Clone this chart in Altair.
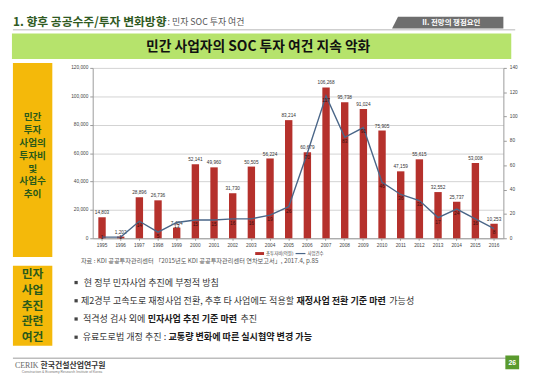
import altair as alt
import pandas as pd

FONT = "Noto Sans CJK KR"

# ---------------- data ----------------
years = [str(y) for y in range(1995, 2017)]
invest = [14803, 1202, 28896, 26736, 7484, 52141, 49960, 31730, 50505, 56224, 83214,
          60679, 106268, 95738, 91024, 75905, 47159, 55615, 32552, 25737, 53008, 10253]
projects = [1, 1, 14, 5, 13, 15, 15, 16, 16, 19, 26, 70, 117, 83, 91, 46, 36, 31, 17, 24, 16, 8]

left_ticks = [0, 20000, 40000, 60000, 80000, 100000, 120000]
right_ticks = [0, 20, 40, 60, 80, 100, 120, 140]

header_main = "1. 향후 공공수주/투자 변화방향"
header_sub = ": 민자 SOC 투자 여건"
tab_text = "II. 전망의 쟁점요인"
banner_title = "민간 사업자의 SOC 투자 여건 지속 악화"
box1_lines = ["민간", "투자", "사업의", "투자비", "및", "사업수", "추이"]
box2_lines = ["민자", "사업", "추진", "관련", "여건"]
source_text = "자료 : KDI 공공투자관리센터 「2015년도 KDI 공공투자관리센터 연차보고서」, 2017.4, p.85"
legend_labels = ["총투자비(억원)", "사업건수"]
bullets = [
    [("현 정부 민자사업 추진에 부정적 방침", False)],
    [("제2경부 고속도로 재정사업 전환, 추후 타 사업에도 적용할", False),
     ("재정사업 전환 기준 마련", True), ("가능성", False)],
    [("적격성 검사 외에", False), ("민자사업 추진 기준 마련", True), ("추진", False)],
    [("유료도로법 개정 추진 :", False), ("교통량 변화에 따른 실시협약 변경 가능", True)],
]

df = pd.DataFrame({"year": years, "invest": invest, "projects": projects})

# ---------------- layout ----------------
OX, OY = 94, 66          # page position of plot origin
W, H = 417, 173
RED = "#b5312c"
BLUE = "#4a6688"
GREEN_TXT = "#2a5a1a"
YELLOW = "#f4b90a"

one = alt.Data(values=[{"a": 1}])


def X(p):
    return p - OX


def Y(p):
    return p - OY


def txt(s, x, y, size, color, weight="normal", align="left", baseline="middle", font=FONT):
    return alt.Chart(one).mark_text(
        text=s, fontSize=size, color=color, fontWeight=weight, align=align,
        baseline=baseline, font=font
    ).encode(x=alt.value(X(x)), y=alt.value(Y(y)))


def rect(x1, y1, x2, y2, color):
    return alt.Chart(one).mark_rect(color=color).encode(
        x=alt.value(X(x1)), x2=alt.value(X(x2)), y=alt.value(Y(y1)), y2=alt.value(Y(y2)))


def tw(s, f, hw=0.92):
    w = 0.0
    for ch in s:
        o = ord(ch)
        if 0xAC00 <= o <= 0xD7A3:
            w += hw
        elif ch == " ":
            w += 0.224
        elif ch.isdigit():
            w += 0.553
        elif ch in ",.:":
            w += 0.27
        else:
            w += 0.6
    return w * f


deco = []
# header
deco.append(txt(header_main, 13, 19, 12, "#2f5a22", weight="bold"))
deco.append(txt(header_sub, 170, 19.5, 9, "#555555"))
deco.append(rect(13, 26.5, 523, 28, "#cfcfcf"))
# tab
deco.append(alt.Chart(one).mark_point(
    shape="M 1 -1 L 1 1 L 0 1 Z", size=144, filled=True, color="#6e6e6e", opacity=1, strokeWidth=0
).encode(x=alt.value(X(398)), y=alt.value(Y(20))))
deco.append(rect(404, 14, 511, 26, "#6e6e6e"))
deco.append(txt(tab_text, 458, 20.5, 7.5, "white", weight="bold", align="center"))
# banner
deco.append(rect(12, 31, 519, 57, "#b6e36c"))
deco.append(txt(banner_title, 262, 44.5, 14, "#111111", weight="bold", align="center"))
# yellow boxes
deco.append(rect(13, 61, 53, 258, YELLOW))
for i, s in enumerate(box1_lines):
    deco.append(txt(s, 33, 115.8 + i * 13.1, 9.8, GREEN_TXT, weight="bold", align="center"))
deco.append(rect(13, 267, 53, 348, YELLOW))
for i, s in enumerate(box2_lines):
    deco.append(txt(s, 33, 275.5 + i * 16, 12, GREEN_TXT, weight="bold", align="center"))
# legend + source
deco.append(rect(259, 253, 268, 256, RED))
deco.append(txt(legend_labels[0], 270, 254.5, 4.5, "#444444"))
deco.append(alt.Chart(one).mark_rule(color=BLUE, strokeWidth=1.2).encode(
    x=alt.value(X(300)), x2=alt.value(X(310)), y=alt.value(Y(254.5))))
deco.append(txt(legend_labels[1], 312, 254.5, 4.5, "#444444"))
deco.append(txt(source_text, 82, 262.5, 6.3, "#555555"))
# bullets (segments chained; a word gap between segments)
BF = 9.2
GAP = 0.26 * BF
for i, segs in enumerate(bullets):
    yy = 284 + i * 18.5
    deco.append(rect(75.5, yy - 1.7, 78.8, yy + 1.6, "#444444"))
    if len(segs) == 1:
        deco.append(txt(segs[0][0], 85, yy, BF, "#333333"))
        continue
    bstart = 85 + tw(segs[0][0], BF, 0.905) + GAP
    deco.append(txt(segs[0][0], bstart - GAP, yy, BF, "#333333", align="right"))
    deco.append(txt(segs[1][0], bstart, yy, BF, "#1a1a1a", weight="bold"))
    if len(segs) > 2:
        sstart = bstart + tw(segs[1][0], BF, 0.92) + GAP + 1
        deco.append(txt(segs[2][0], sstart, yy, BF, "#333333"))
# footer
deco.append(rect(13, 360, 523, 361.5, "#bdbdbd"))
deco.append(txt("CERIK", 15, 369, 8, "#666666", font="Liberation Serif"))
deco.append(txt("한국건설산업연구원", 41, 369, 8, "#333333", weight="bold"))
deco.append(txt("Construction & Economy Research Institute of Korea", 22, 374.5, 3.5, "#777777",
                font="Liberation Sans"))
deco.append(rect(513, 358, 527, 372, "#5a9a2e"))
deco.append(txt("26", 520, 365.5, 7, "white", weight="bold", align="center", font="Liberation Sans"))

# ---------------- main chart ----------------
base = alt.Chart(df)
xenc = alt.X("year:O", scale=alt.Scale(paddingInner=0, paddingOuter=0),
             axis=alt.Axis(title=None, labelAngle=0, labelFontSize=4.8, labelColor="#444444",
                           labelFont="Liberation Sans", domainColor="#9a9a9a", tickColor="#9a9a9a",
                           tickSize=2, labelPadding=2, labelOverlap=False))

bars = base.mark_bar(size=7.5, color=RED).encode(
    x=xenc,
    y=alt.Y("invest:Q", scale=alt.Scale(domain=[0, 120000], nice=False),
            axis=alt.Axis(title=None, values=left_ticks, tickCount=len(left_ticks), format=",d",
                          labelFontSize=4.8, labelColor="#444444", labelFont="Liberation Sans",
                          gridColor="#d2d2d2", gridWidth=1, domainColor="#9a9a9a",
                          tickColor="#9a9a9a", tickSize=3, labelPadding=2, labelOverlap=False))
)
bar_text = base.mark_text(dy=-2, baseline="bottom", fontSize=4.8, color="#333333",
                          font="Liberation Sans").encode(
    x="year:O", y="invest:Q", text=alt.Text("invest:Q", format=","))
left = alt.layer(bars, bar_text)

line = base.mark_line(color=BLUE, strokeWidth=1.4).encode(
    x="year:O",
    y=alt.Y("projects:Q", scale=alt.Scale(domain=[0, 140], nice=False),
            axis=alt.Axis(title=None, orient="right", values=right_ticks,
                          tickCount=len(right_ticks), grid=False,
                          labelFontSize=4.8, labelColor="#444444", labelFont="Liberation Sans",
                          domainColor="#9a9a9a", tickColor="#9a9a9a", tickSize=3, labelPadding=3,
                          labelOverlap=False))
)
line_text = base.transform_calculate(lp="max(datum.projects, 4)").mark_text(
    dy=4, baseline="middle", fontSize=5, color="#3a1010", font="Liberation Sans"
).encode(x="year:O", y="lp:Q", text="projects:Q")
right = alt.layer(line, line_text)

chart = alt.layer(*deco, left, right).resolve_scale(y="independent").properties(
    width=W, height=H,
    autosize=alt.AutoSizeParams(type="none"),
    padding={"left": OX - 8, "top": OY - 8, "right": 528 - (OX - 8) - W, "bottom": 368 - (OY - 8) - H},
    background="white",
).configure_view(stroke=None)

chart.save("out.html", embed_options={"renderer": "svg", "actions": False})
